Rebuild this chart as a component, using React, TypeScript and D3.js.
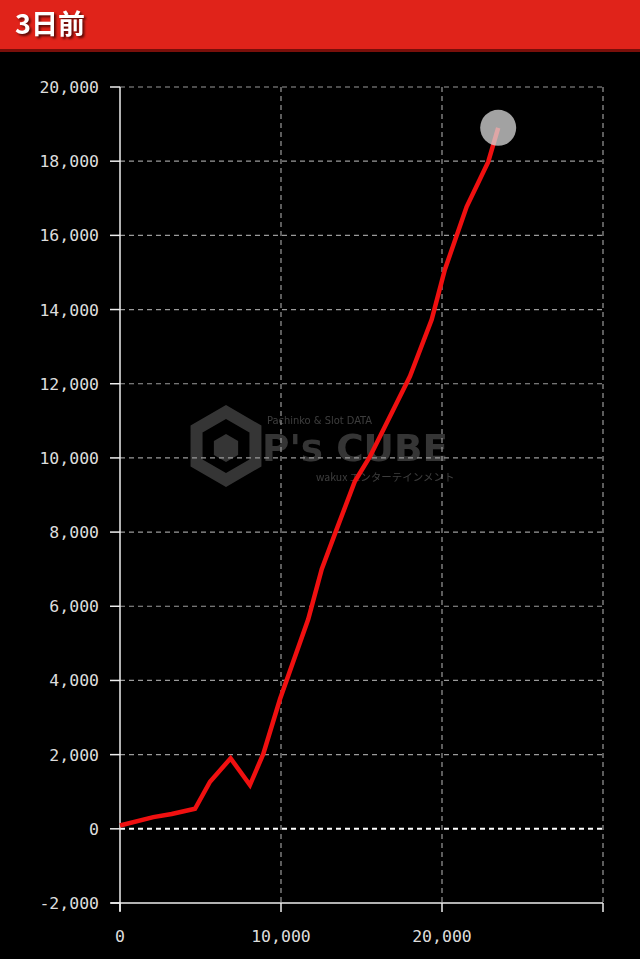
import { useEffect, useRef } from 'react';
import * as d3 from 'd3';

// cumulative games (x) vs. difference (y)
const games = [0, 2070, 3210, 4660, 5590, 6870, 8070, 8900, 9940, 11690, 12530, 13460, 14590, 15530, 18010, 19360, 20180, 21530, 22870, 23490];
const diff = [90, 315, 400, 540, 1270, 1900, 1180, 2020, 3500, 5650, 7000, 8080, 9370, 10040, 12200, 13730, 15080, 16770, 17980, 18900];
const yTicks = [-2000, 0, 2000, 4000, 6000, 8000, 10000, 12000, 14000, 16000, 18000, 20000];
const xTicks = [0, 10000, 20000, 30000];
const xLabels = ['0', '10,000', '20,000', ''];
const title = '3日前';

const W = 640;
const H = 959;

export default function App() {
  const svgRef = useRef<SVGSVGElement>(null);

  useEffect(() => {
    document.body.style.margin = '0';
    document.body.style.background = '#000';
    if (!svgRef.current) return;
    const svg = d3.select(svgRef.current);
    svg.selectAll('*').remove();

    const mono = 'DejaVu Sans Mono, monospace';

    // Header bar
    svg.append('rect').attr('width', W).attr('height', H).attr('fill', '#000');
    svg.append('rect').attr('x', 0).attr('y', 0).attr('width', W).attr('height', 52).attr('fill', '#7a0f0a');
    svg.append('rect').attr('x', 0).attr('y', 0).attr('width', W).attr('height', 49).attr('fill', '#e0231a');
    svg.append('text')
      .attr('x', 15).attr('y', 34)
      .attr('fill', '#ffffff')
      .attr('font-size', 27).attr('font-weight', 'bold')
      .attr('font-family', 'Noto Sans CJK JP, serif')
      .style('filter', 'drop-shadow(2px 2px 1px #5a0a06)')
      .text(title);

    const x = d3.scaleLinear().domain([0, 30000]).range([120, 603]);
    const y = d3.scaleLinear().domain([-2000, 20000]).range([903, 87]);

    const g = svg.append('g');

    // Watermark
    const wm = g.append('g').attr('opacity', 0.45);
    const cx = 226, cy = 446, r = 34;
    const hex = d3.range(6).map((i) => {
      const a = (Math.PI / 3) * i - Math.PI / 2;
      return [cx + r * Math.cos(a), cy + r * Math.sin(a)] as [number, number];
    });
    wm.append('path')
      .attr('d', d3.line()(hex) + 'Z')
      .attr('fill', 'none').attr('stroke', '#777').attr('stroke-width', 12);
    const r2 = 14;
    const inner = d3.range(6).map((i) => {
      const a = (Math.PI / 3) * i - Math.PI / 2;
      return [cx + r2 * Math.cos(a), cy + 2 + r2 * Math.sin(a)] as [number, number];
    });
    wm.append('path').attr('d', d3.line()(inner) + 'Z').attr('fill', '#777');
    wm.append('text').attr('x', 267).attr('y', 424).attr('fill', '#888')
      .attr('font-size', 11).attr('font-family', 'DejaVu Sans Condensed, sans-serif')
      .text('Pachinko & Slot DATA');
    wm.append('text').attr('x', 262).attr('y', 461).attr('fill', '#777')
      .attr('font-size', 38).attr('font-weight', 'bold')
      .attr('font-family', 'DejaVu Sans Condensed, sans-serif')
      .attr('textLength', 186)
      .attr('lengthAdjust', 'spacingAndGlyphs')
      .text("P's CUBE");
    wm.append('text').attr('x', 316).attr('y', 481).attr('fill', '#888')
      .attr('font-size', 10.5).attr('font-family', 'Noto Sans CJK JP, sans-serif')
      .text('wakux エンターテインメント');

    // Horizontal grid
    g.selectAll('.hgrid')
      .data(yTicks.filter((t) => t !== -2000))
      .enter()
      .append('line')
      .attr('x1', 120).attr('x2', 603)
      .attr('y1', (d) => y(d)).attr('y2', (d) => y(d))
      .attr('stroke', (d) => (d === 0 ? '#ffffff' : '#9a9a9a'))
      .attr('stroke-width', (d) => (d === 0 ? 2 : 1.2))
      .attr('stroke-dasharray', '5,4');

    // Vertical grid
    g.selectAll('.vgrid')
      .data(xTicks.filter((t) => t !== 0))
      .enter()
      .append('line')
      .attr('x1', (d) => x(d)).attr('x2', (d) => x(d))
      .attr('y1', 87).attr('y2', 903)
      .attr('stroke', '#9a9a9a')
      .attr('stroke-width', 1.2)
      .attr('stroke-dasharray', '5,4');

    // Axes
    g.append('line').attr('x1', 120).attr('x2', 120).attr('y1', 87).attr('y2', 911)
      .attr('stroke', '#eeeeee').attr('stroke-width', 1.5);
    g.append('line').attr('x1', 111).attr('x2', 603).attr('y1', 903).attr('y2', 903)
      .attr('stroke', '#eeeeee').attr('stroke-width', 1.5);

    g.selectAll('.ytick')
      .data(yTicks)
      .enter()
      .append('line')
      .attr('x1', 110).attr('x2', 120)
      .attr('y1', (d) => y(d)).attr('y2', (d) => y(d))
      .attr('stroke', '#eeeeee').attr('stroke-width', 1.5);
    g.selectAll('.ylab')
      .data(yTicks)
      .enter()
      .append('text')
      .attr('x', 99).attr('y', (d) => y(d) + 6)
      .attr('text-anchor', 'end')
      .attr('fill', '#dddddd')
      .attr('font-size', 16.5)
      .attr('font-family', mono)
      .text((d) => d3.format(',')(d).replace('−', '-'));

    g.selectAll('.xtick')
      .data(xTicks)
      .enter()
      .append('line')
      .attr('x1', (d) => x(d)).attr('x2', (d) => x(d))
      .attr('y1', 903).attr('y2', 912)
      .attr('stroke', '#eeeeee').attr('stroke-width', 1.5);
    g.selectAll('.xlab')
      .data(xTicks)
      .enter()
      .append('text')
      .attr('x', (d) => x(d)).attr('y', 942)
      .attr('text-anchor', 'middle')
      .attr('fill', '#dddddd')
      .attr('font-size', 16.5)
      .attr('font-family', mono)
      .text((_, i) => xLabels[i]);

    // Series
    const pts = games.map((gv, i) => [gv, diff[i]] as [number, number]);
    const line = d3.line<[number, number]>()
      .x((d) => x(d[0]))
      .y((d) => y(d[1]));
    g.append('path')
      .attr('d', line(pts))
      .attr('fill', 'none')
      .attr('stroke', '#f01010')
      .attr('stroke-width', 4.5)
      .attr('stroke-linejoin', 'miter')
      .attr('stroke-linecap', 'butt');

    const last = pts[pts.length - 1];
    g.append('circle')
      .attr('cx', x(last[0])).attr('cy', y(last[1]))
      .attr('r', 18)
      .attr('fill', '#d8d8d8')
      .attr('opacity', 0.75);
  }, []);

  return (
    <svg
      ref={svgRef}
      width={W}
      height={H}
      style={{ position: 'absolute', left: 0, top: 0, display: 'block' }}
    />
  );
}
